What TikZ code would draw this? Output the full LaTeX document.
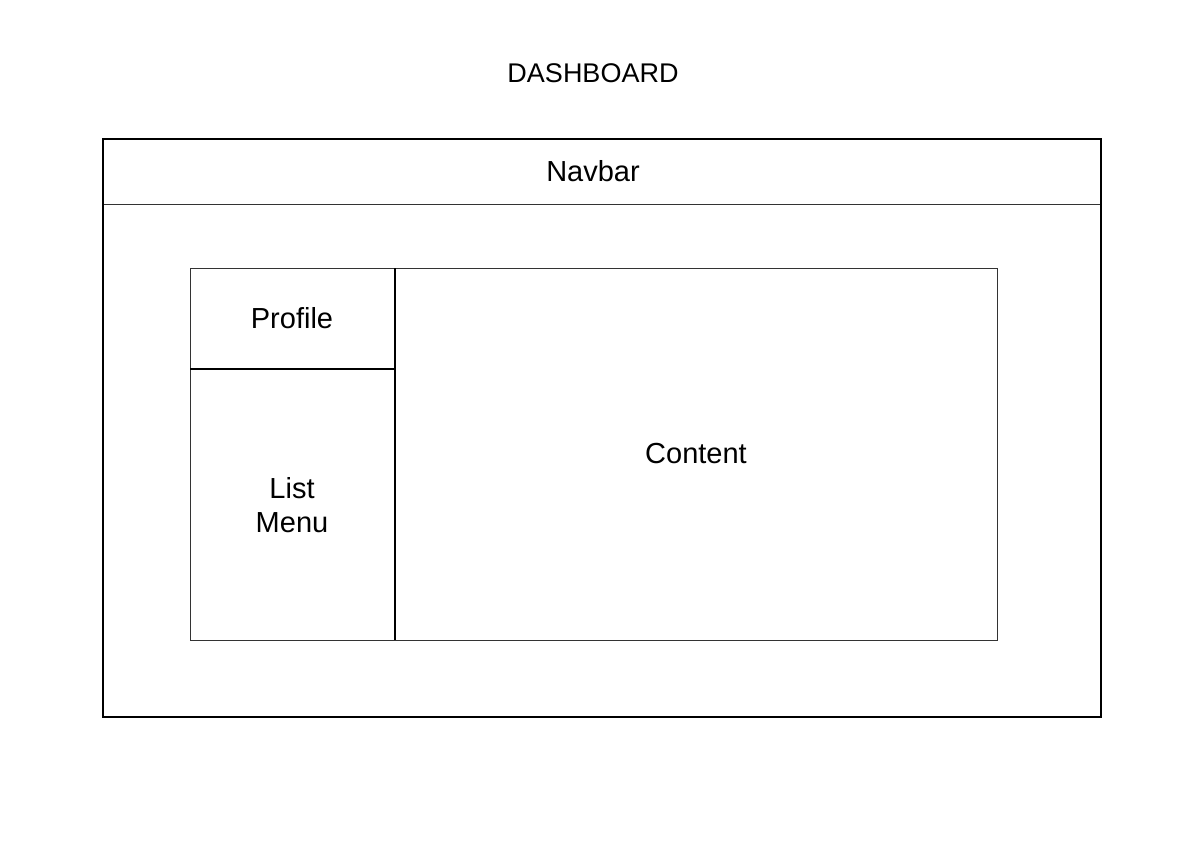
\documentclass[tikz,border=0pt]{standalone}
\usepackage{fontspec}
\setmainfont{Liberation Sans}
\begin{document}
\begin{tikzpicture}[x=1pt,y=-1pt,
  lbl/.style={font=\fontsize{29}{34}\selectfont, text=black, align=center, inner sep=0pt},
  ttl/.style={font=\fontsize{27}{32}\selectfont, text=black, inner sep=0pt},
  thick line/.style={draw=black, line width=1.6pt},
  thin line/.style={draw=black!80, line width=1pt}]
\useasboundingbox[fill=white] (0,0) rectangle (1186,841);
\node[ttl] (title) at (593,73) {DASHBOARD};
% outer frame
\coordinate (otl) at (103,139);
\coordinate (obr) at (1101,717);
\coordinate (nl) at (103,204);
\coordinate (nr) at (1101,204);
\draw[thin line] (nl) -- (nr);
\draw[thick line] (otl) rectangle (obr);
\node[lbl] (navbar) at (593,171) {Navbar};
% inner
\coordinate (itl) at (190,268);
\coordinate (ibr) at (997,640);
\coordinate (vt) at (395,268);
\coordinate (vb) at (395,640);
\coordinate (hl) at (190,369);
\coordinate (hr) at (395,369);
\draw[thin line] (itl) rectangle (ibr);
\draw[thick line, line width=1.4pt] (vt) -- (vb);
\draw[thick line, line width=1.4pt] (hl) -- (hr);
\node[lbl] (profile) at (292,318) {Profile};
\node[lbl] (menu) at (292,505) {List\\Menu};
\node[lbl] (content) at (696,454) {Content};
\end{tikzpicture}
\end{document}
